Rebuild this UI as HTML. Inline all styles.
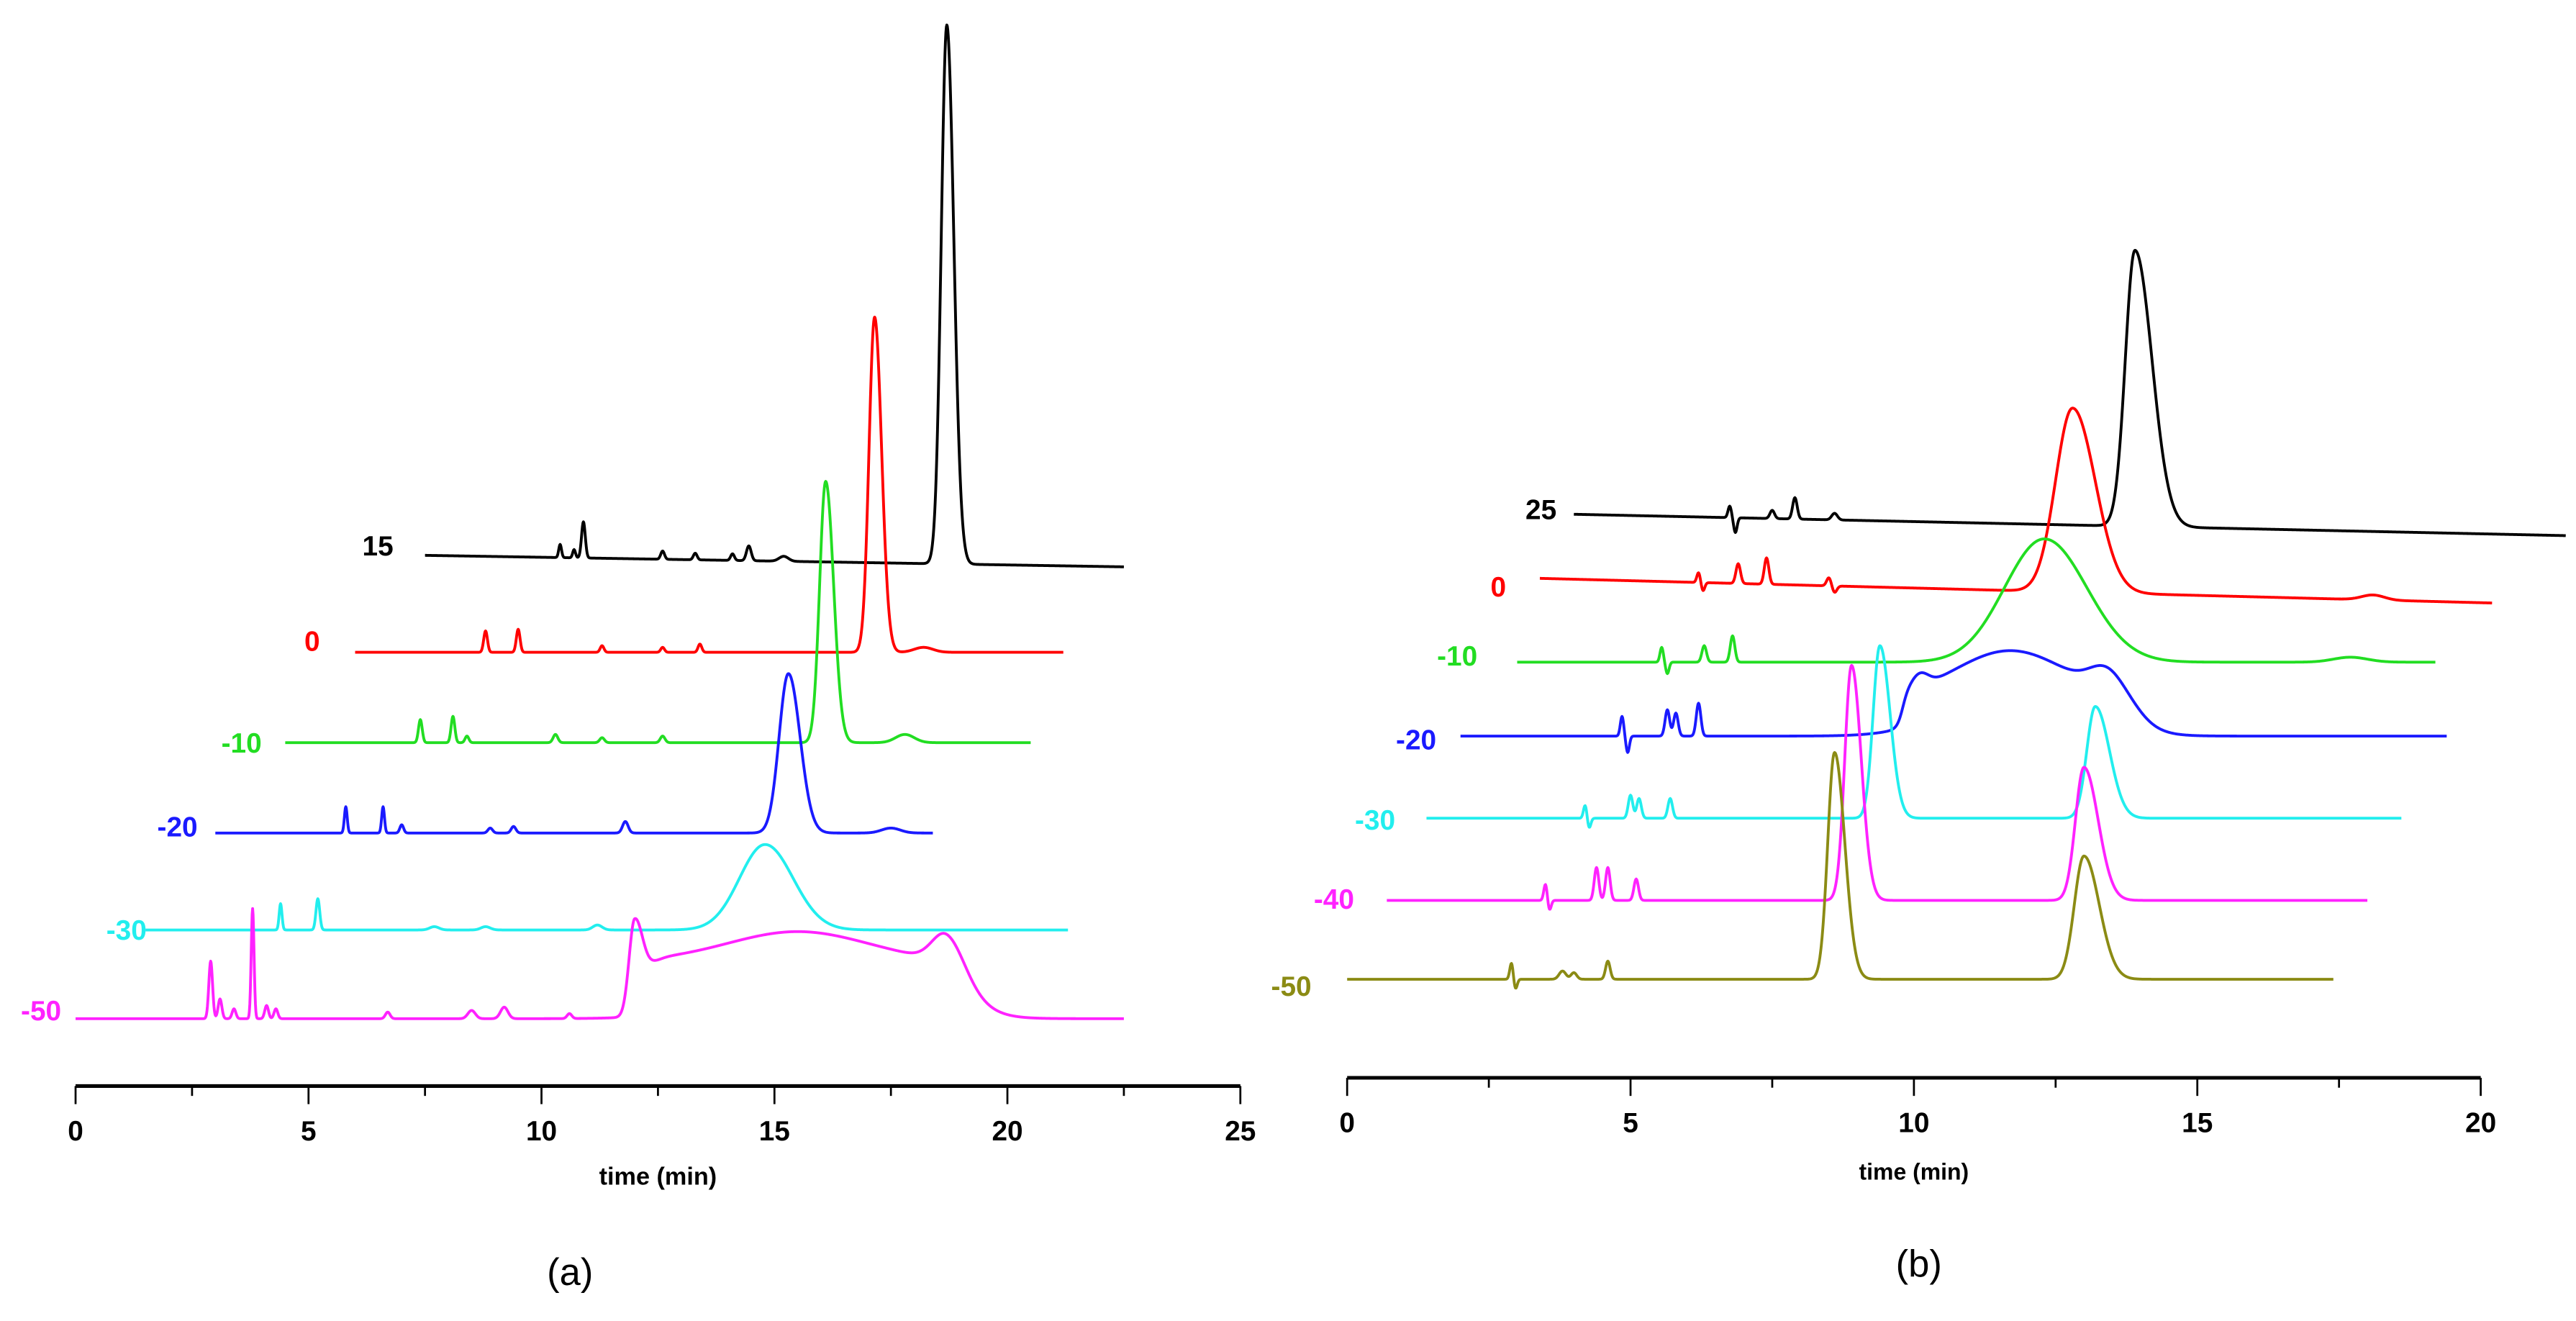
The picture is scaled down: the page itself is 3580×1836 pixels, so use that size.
<!DOCTYPE html>
<html><head><meta charset="utf-8"><style>
html,body{margin:0;padding:0;background:#fff}
svg{display:block}
text{font-family:"Liberation Sans",Arial,sans-serif}
</style></head><body>
<svg id="fig" width="3580" height="1836" viewBox="0 0 1568 804" preserveAspectRatio="none" xmlns="http://www.w3.org/2000/svg">
<g id="pa"></g>
<g id="pb"></g>
</svg>
<script>
// Panel A data
const aLabels = ["15","0","-10","-20","-30","-50"];
const aColors = ["#000000","#ff0000","#22dd22","#1a1aff","#22eeee","#ff22ff"];
const aRanges = [[7.5,22.5],[6,21.2],[4.5,20.5],[3,18.4],[1.5,21.3],[0,22.5]];
const aBase = [[323,316],[264,264],[209,209],[154,154],[95,95],[41,41]];
// peaks: [t, height, sigmaL, sigmaR]
const aPeaks = [
 [[18.7,328,0.12,0.15],[10.9,22,0.04,0.04],[10.4,8,0.03,0.03],[10.7,5,0.03,0.03],[12.6,5,0.04,0.04],[13.3,4,0.04,0.04],[14.1,4,0.04,0.04],[14.45,9,0.05,0.05],[15.2,3,0.1,0.1]],
 [[17.15,204,0.12,0.15],[8.8,13,0.04,0.04],[9.5,14,0.04,0.04],[11.3,4,0.04,0.04],[12.6,3,0.04,0.04],[13.4,5,0.04,0.04],[18.2,3,0.2,0.2]],
 [[16.1,159,0.13,0.17],[7.4,14,0.04,0.04],[8.1,16,0.04,0.04],[8.4,4,0.04,0.04],[10.3,5,0.05,0.05],[11.3,3,0.05,0.05],[12.6,4,0.05,0.05],[17.8,5,0.2,0.2]],
 [[15.3,97,0.2,0.25],[5.8,16,0.03,0.03],[6.6,16,0.03,0.03],[7.0,5,0.04,0.04],[8.9,3,0.05,0.05],[9.4,4,0.05,0.05],[11.8,7,0.06,0.06],[17.5,3,0.2,0.2]],
 [[14.8,52,0.55,0.6],[4.4,16,0.03,0.03],[5.2,19,0.04,0.04],[7.7,2,0.1,0.1],[8.8,2,0.1,0.1],[11.2,3,0.1,0.1]],
 [[2.9,35,0.04,0.04],[3.8,67,0.03,0.03],[3.1,12,0.04,0.04],[3.4,6,0.04,0.04],[4.1,8,0.04,0.04],[4.3,6,0.04,0.04],[6.7,4,0.05,0.05],[8.5,5,0.08,0.08],[9.2,7,0.08,0.08],[10.6,3,0.05,0.05],[12.0,58,0.12,0.2],[15.5,18,1.5,1.5],[18.7,20,0.3,0.35]]
];
// bands: [tOn, tOff, height, edgeOn, edgeOff]
const aBands = [[],[],[],[],[],[[12.3,19.2,35,0.1,0.3]]];
const aLabelPos = [[230,332],[190,390],[147,452],[108,503],[77,566],[25,615]];
const aTicks = [0,5,10,15,20,25];

// Panel B data
const bLabels = ["25","0","-10","-20","-30","-40","-50"];
const bColors = ["#000000","#ff0000","#22dd22","#1a1aff","#22eeee","#ff22ff","#8b8b14"];
const bRanges = [[4,21.5],[3.4,20.2],[3,19.2],[2,19.4],[1.4,18.6],[0.7,18],[0,17.4]];
const bBase = [[343,330],[304,289],[253,253],[208,208],[158,158],[108,108],[60,60]];
const bPeaks = [
 [[13.9,168,0.17,0.3],[6.75,7,0.03,0.03],[6.85,-9,0.03,0.03],[7.5,5,0.04,0.04],[7.9,13,0.04,0.04],[8.6,4,0.05,0.05]],
 [[12.8,112,0.3,0.4],[6.2,6,0.03,0.03],[6.28,-5,0.03,0.03],[6.9,12,0.04,0.04],[7.4,16,0.04,0.04],[8.5,5,0.04,0.04],[8.6,-4,0.04,0.04],[18.1,3,0.2,0.2]],
 [[12.3,75,0.7,0.75],[5.55,9,0.03,0.03],[5.65,-7,0.03,0.03],[6.3,10,0.04,0.04],[6.8,16,0.04,0.04],[17.7,3,0.3,0.3]],
 [[10.1,8,0.15,0.15],[11.7,30,1.0,1.0],[13.4,14,0.3,0.3],[4.85,12,0.03,0.03],[4.95,-10,0.03,0.03],[5.65,16,0.04,0.04],[5.8,14,0.04,0.04],[6.2,20,0.04,0.04]],
 [[9.4,105,0.12,0.18],[13.2,68,0.15,0.25],[4.2,8,0.03,0.03],[4.27,-6,0.03,0.03],[5.0,14,0.04,0.04],[5.15,12,0.04,0.04],[5.7,12,0.04,0.04]],
 [[8.9,143,0.12,0.17],[13.0,81,0.15,0.25],[3.5,10,0.03,0.03],[3.57,-6,0.03,0.03],[4.4,20,0.04,0.04],[4.6,20,0.04,0.04],[5.1,13,0.04,0.04]],
 [[8.6,138,0.12,0.18],[13.0,75,0.17,0.27],[2.9,10,0.03,0.03],[2.97,-6,0.03,0.03],[3.8,5,0.06,0.06],[4.0,4,0.05,0.05],[4.6,11,0.04,0.04]]
];
const bBands = [[],[],[],[[9.8,14.0,22,0.05,0.2]],[],[],[]];
const bLabelPos = [[938,310],[912,357],[887,399],[862,450],[837,499],[812,547],[786,600]];
const bTicks = [0,5,10,15,20];

const NS = "http://www.w3.org/2000/svg";
function mk(tag, attrs, parent){const e=document.createElementNS(NS,tag);for(const k in attrs)e.setAttribute(k,attrs[k]);parent.appendChild(e);return e;}
function sig(x){return 1/(1+Math.exp(-x));}

function drawPanel(g, cfg){
  const xs = t => cfg.x0 + (t - cfg.tMin)/(cfg.tMax - cfg.tMin)*(cfg.x1 - cfg.x0);
  const ys = v => cfg.yAxis - v;
  const ax = mk("line",{x1:cfg.x0,y1:cfg.yAxis,x2:cfg.x1,y2:cfg.yAxis,stroke:"#000","stroke-width":2.2},g);
  
  
  for(let t=cfg.tMin;t<=cfg.tMax+1e-9;t+=2.5){
    const major = Math.abs(t%5)<1e-9;
    const tk = mk("line",{x1:xs(t),y1:cfg.yAxis,x2:xs(t),y2:cfg.yAxis+(major?11:6),stroke:"#000","stroke-width":1.2},g);
    
    
  }
  cfg.ticks.forEach(t=>{
    const tl = mk("text",{x:xs(t),y:cfg.yAxis+33,"text-anchor":"middle","font-size":17,"font-weight":"bold"},g);
    tl.textContent = t;
    
    
  });
  const tt = mk("text",{x:(cfg.x0+cfg.x1)/2,y:cfg.titleY,"text-anchor":"middle","font-size":cfg.titleSize,"font-weight":"bold"},g);
  tt.textContent = "time (min)";
  
  
  const pl = mk("text",{x:cfg.panelX,y:cfg.panelY,"text-anchor":"middle","font-size":23},g);
  pl.textContent = cfg.panel;
  
  
  cfg.labels.forEach((lab,i)=>{
    const [ts,te] = cfg.ranges[i];
    const [b0,b1] = cfg.base[i];
    let d = "";
    for(let t=ts;t<=te+1e-9;t+=0.01){
      let v = b0 + (b1-b0)*(t-ts)/(te-ts);
      cfg.peaks[i].forEach(p=>{const s = t<p[0]?p[2]:p[3];v += p[1]*Math.exp(-Math.pow(t-p[0],2)/(2*s*s));});
      cfg.bands[i].forEach(b=>{v += b[2]*sig((t-b[0])/b[3])*sig((b[1]-t)/b[4]);});
      d += (d?"L":"M") + xs(t).toFixed(2) + "," + ys(v).toFixed(2);
    }
    const path = mk("path",{d:d,fill:"none",stroke:cfg.colors[i],"stroke-width":1.7,"stroke-linejoin":"round"},g);
    
    
    const lt = mk("text",{x:cfg.labelPos[i][0],y:cfg.labelPos[i][1]+6,"text-anchor":"middle","font-size":17,"font-weight":"bold",fill:cfg.colors[i]},g);
    lt.textContent = lab;
    
    
  });
}

drawPanel(document.getElementById("pa"),{x0:46,x1:755,tMin:0,tMax:25,yAxis:661,ticks:aTicks,titleY:721,titleSize:15,panel:"(a)",panelX:347,panelY:782,
  labels:aLabels,colors:aColors,ranges:aRanges,base:aBase,peaks:aPeaks,bands:aBands,labelPos:aLabelPos});
drawPanel(document.getElementById("pb"),{x0:820,x1:1510,tMin:0,tMax:20,yAxis:656,ticks:bTicks,titleY:718,titleSize:14,panel:"(b)",panelX:1168,panelY:777,
  labels:bLabels,colors:bColors,ranges:bRanges,base:bBase,peaks:bPeaks,bands:bBands,labelPos:bLabelPos});
</script>
</body></html>
